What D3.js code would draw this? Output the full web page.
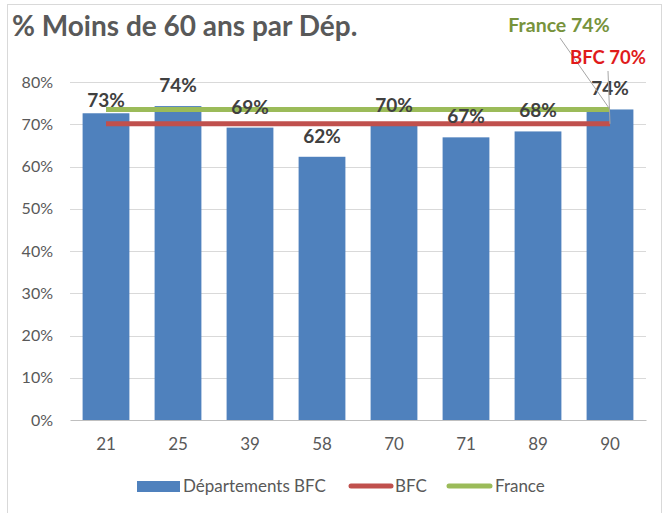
<!DOCTYPE html>
<html>
<head>
<meta charset="utf-8">
<script src="https://cdn.jsdelivr.net/npm/d3@7"></script>
<style>
  body { margin: 0; background: #fff; }
  text { font-family: Lato, "Open Sans", sans-serif; }
</style>
</head>
<body>
<script>
// data
var departements = ["21", "25", "39", "58", "70", "71", "89", "90"];
var valeurs = [72.6, 74.3, 69.2, 62.3, 69.7, 66.9, 68.3, 73.5];
var libelles = ["73%", "74%", "69%", "62%", "70%", "67%", "68%", "74%"];
var bfc = 70.1;
var france = 73.5;
var yTicks = [0, 10, 20, 30, 40, 50, 60, 70, 80];

var W = 664, H = 513;
var margin = { left: 70, right: 18, top: 82, bottom: 93 };
var width = W - margin.left - margin.right,
  height = H - margin.top - margin.bottom;

var svg = d3.select("body").append("svg")
  .attr("width", W)
  .attr("height", H);

// chart border
svg.append("rect")
  .attr("x", 7.5).attr("y", 4.5)
  .attr("width", 654).attr("height", 520)
  .attr("fill", "none")
  .attr("stroke", "#d9d9d9");

svg.append("text")
  .attr("x", 12)
  .attr("y", 36)
  .attr("font-size", "28px")
  .attr("font-weight", "bold")
  .attr("fill", "#595959")
  .text("% Moins de 60 ans par Dép.");

var g = svg.append("g")
  .attr("transform", "translate(" + margin.left + "," + margin.top + ")");

var x = d3.scaleBand().domain(departements).range([0, width]).paddingInner(0.35).paddingOuter(0.175);
var y = d3.scaleLinear().domain([0, 80]).range([height, 0]);

// gridlines
g.selectAll(".grid")
  .data(yTicks.slice(1))
  .enter().append("line")
  .attr("x1", 0).attr("x2", width)
  .attr("y1", function (d) { return Math.round(y(d)) + 0.5; })
  .attr("y2", function (d) { return Math.round(y(d)) + 0.5; })
  .attr("stroke", "#d9d9d9");

// y axis labels
var yAxis = g.append("g")
  .call(d3.axisLeft(y).tickValues(yTicks).tickSize(0).tickPadding(17)
    .tickFormat(function (d) { return d + "%"; }));
yAxis.select(".domain").remove();
yAxis.selectAll("text").attr("font-size", "16px").attr("fill", "#595959")
  .style("font-family", "Lato, 'Open Sans', sans-serif");

// bars
g.selectAll(".bar")
  .data(valeurs)
  .enter().append("rect")
  .attr("x", function (d, i) { return x(departements[i]); })
  .attr("y", function (d) { return y(d); })
  .attr("width", x.bandwidth())
  .attr("height", function (d) { return height - y(d); })
  .attr("fill", "#4f81bd");

// x axis
var xAxis = g.append("g")
  .attr("transform", "translate(0," + height + ")")
  .call(d3.axisBottom(x).tickSize(0).tickPadding(18));
xAxis.select(".domain").attr("stroke", "#bfbfbf");
xAxis.selectAll("text").attr("font-size", "17px").attr("fill", "#595959")
  .style("font-family", "Lato, 'Open Sans', sans-serif");

// reference lines from first to last bar centre
var x0 = x(departements[0]) + x.bandwidth() / 2,
  x1 = x(departements[departements.length - 1]) + x.bandwidth() / 2;

g.append("line")
  .attr("x1", x0).attr("x2", x1)
  .attr("y1", y(bfc)).attr("y2", y(bfc))
  .attr("stroke", "#c0504d").attr("stroke-width", 5);

g.append("line")
  .attr("x1", x0).attr("x2", x1)
  .attr("y1", y(france)).attr("y2", y(france))
  .attr("stroke", "#9bbb59").attr("stroke-width", 5);

// value labels
g.selectAll(".lab")
  .data(valeurs)
  .enter().append("text")
  .attr("x", function (d, i) { return x(departements[i]) + x.bandwidth() / 2; })
  .attr("y", function (d, i) { return y(d) - (i === 0 ? 6 : 14); })
  .attr("text-anchor", "middle")
  .attr("font-size", "19px")
  .attr("font-weight", "bold")
  .attr("fill", "#404040")
  .text(function (d, i) { return libelles[i]; });

// annotations with leader lines
g.append("line")
  .attr("x1", 490).attr("y1", -44)
  .attr("x2", x1).attr("y2", y(france))
  .attr("stroke", "#a6a6a6");
g.append("line")
  .attr("x1", 538).attr("y1", -11)
  .attr("x2", x1).attr("y2", y(bfc))
  .attr("stroke", "#a6a6a6");

g.append("text")
  .attr("x", 489).attr("y", -50)
  .attr("text-anchor", "middle")
  .attr("font-size", "19.5px").attr("font-weight", "bold")
  .attr("fill", "#77933c")
  .text("France " + Math.round(france) + "%");

g.append("text")
  .attr("x", 538).attr("y", -18)
  .attr("text-anchor", "middle")
  .attr("font-size", "18.5px").attr("font-weight", "bold")
  .attr("fill", "#e01b1b")
  .text("BFC " + Math.round(bfc) + "%");

// legend
var legend = svg.append("g").attr("transform", "translate(0,486)");
legend.append("rect").attr("x", 137).attr("y", -5).attr("width", 43).attr("height", 11).attr("fill", "#4f81bd");
legend.append("text").attr("x", 183).attr("y", 6).attr("font-size", "17px").attr("fill", "#595959").text("Départements BFC");
legend.append("line").attr("x1", 351).attr("x2", 391).attr("stroke", "#c0504d").attr("stroke-width", 5).attr("stroke-linecap", "round");
legend.append("text").attr("x", 395).attr("y", 6).attr("font-size", "17px").attr("fill", "#595959").text("BFC");
legend.append("line").attr("x1", 449).attr("x2", 490).attr("stroke", "#9bbb59").attr("stroke-width", 5).attr("stroke-linecap", "round");
legend.append("text").attr("x", 495).attr("y", 6).attr("font-size", "17px").attr("fill", "#595959").text("France");
</script>
</body>
</html>
